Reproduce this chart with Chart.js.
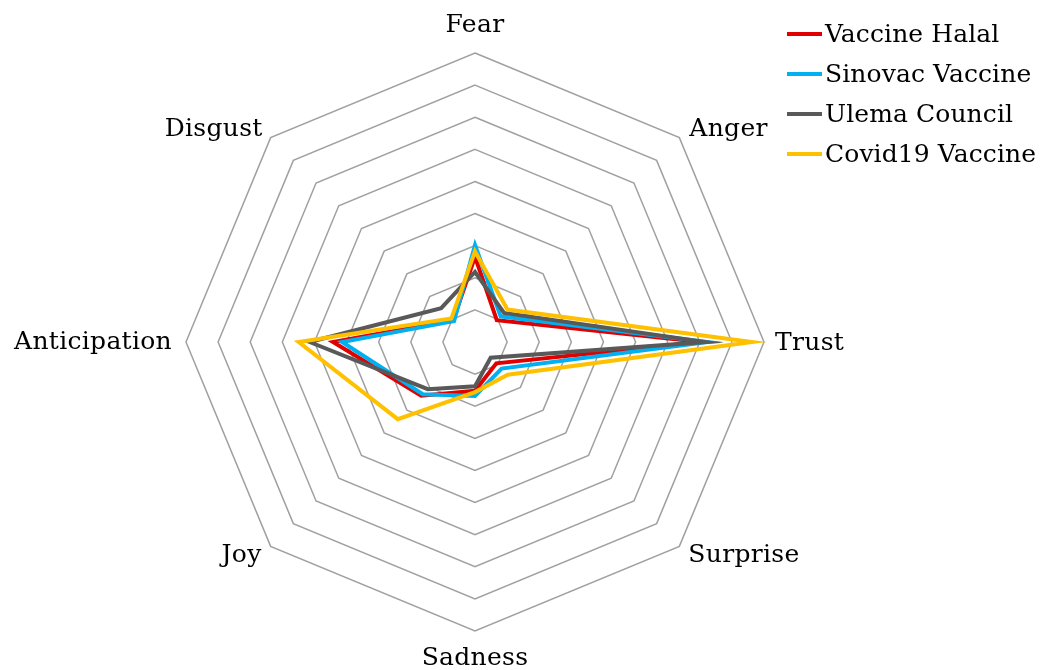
<!DOCTYPE html>
<html>
<head>
<meta charset="utf-8">
<script src="https://cdn.jsdelivr.net/npm/chart.js@4/dist/chart.umd.min.js"></script>
<style>
  html, body { margin: 0; padding: 0; background: #fff; }
  #wrap { position: relative; width: 1047px; height: 670px; }
  #c { position: absolute; left: 0; top: 0; }
  #legend { position: absolute; left: 787px; top: 14px; font-family: "DejaVu Serif", serif; font-size: 25px; color: #000; }
  .row { height: 40px; line-height: 40px; display: flex; align-items: center; white-space: nowrap; letter-spacing: 0.1px; }
  .sw { width: 35px; height: 3.5px; margin-right: 3px; }
</style>
</head>
<body>
<div id="wrap">
  <canvas id="c" width="1047" height="670"></canvas>
  <div id="legend"></div>
</div>
<script>
const categories = ["Fear", "Anger", "Trust", "Surprise", "Sadness", "Joy", "Anticipation", "Disgust"];
const seriesNames = ["Vaccine Halal", "Sinovac Vaccine", "Ulema Council", "Covid19 Vaccine"];
const vaccineHalal   = [2.65, 0.96, 7.05, 0.94, 1.52, 2.37, 4.42, 0.96];
const sinovacVaccine = [3.02, 1.13, 7.24, 1.17, 1.68, 2.30, 4.14, 0.92];
const ulemaCouncil   = [2.18, 1.28, 7.17, 0.69, 1.38, 2.08, 5.15, 1.49];
const covid19Vaccine = [2.82, 1.43, 8.62, 1.44, 1.56, 3.40, 5.49, 1.04];
const seriesColors = ["#E00000", "#00B0F0", "#595959", "#FFC000"];

const allSeries = [vaccineHalal, sinovacVaccine, ulemaCouncil, covid19Vaccine];

const labelPlacement = [
  {align: "center", dx: 0, dy: -28},
  {align: "left", dx: 10, dy: -8},
  {align: "left", dx: 11, dy: 1},
  {align: "left", dx: 9, dy: 9},
  {align: "center", dx: 0, dy: 27},
  {align: "right", dx: -9, dy: 9},
  {align: "right", dx: -14, dy: 0},
  {align: "right", dx: -8, dy: -8}
];

const pointLabelPlugin = {
  id: "pointLabelPlugin",
  afterDraw(chart) {
    const scale = chart.scales.r;
    const ctx = chart.ctx;
    ctx.save();
    ctx.font = "25px 'DejaVu Serif'";
    try { ctx.letterSpacing = "0.3px"; } catch (e) {}
    ctx.fillStyle = "#000";
    ctx.textBaseline = "middle";
    categories.forEach((lab, i) => {
      const p = scale.getPointPosition(i, scale.drawingArea);
      const pl = labelPlacement[i];
      ctx.textAlign = pl.align;
      ctx.fillText(lab, p.x + pl.dx, p.y + pl.dy);
    });
    ctx.restore();
  }
};

new Chart(document.getElementById("c"), {
  type: "radar",
  data: {
    labels: categories,
    datasets: allSeries.map((vals, i) => ({
      label: seriesNames[i],
      data: vals,
      borderColor: seriesColors[i],
      backgroundColor: seriesColors[i],
      borderWidth: 4,
      pointRadius: 0,
      pointHoverRadius: 0,
      fill: false,
      tension: 0,
      order: 3 - i
    }))
  },
  options: {
    responsive: false,
    animation: false,
    layout: { padding: { left: 186, right: 283, top: 53, bottom: 39 } },
    plugins: { legend: { display: false }, tooltip: { enabled: false } },
    scales: {
      r: {
        min: 0,
        max: 9,
        ticks: { display: false, stepSize: 1 },
        pointLabels: { display: false },
        angleLines: { display: false },
        grid: { color: "#A0A0A0", lineWidth: 1.5 }
      }
    }
  },
  plugins: [pointLabelPlugin]
});

const legend = document.getElementById("legend");
seriesNames.forEach((n, i) => {
  const row = document.createElement("div");
  row.className = "row";
  const sw = document.createElement("div");
  sw.className = "sw";
  sw.style.background = seriesColors[i];
  const t = document.createElement("span");
  t.textContent = n;
  row.appendChild(sw);
  row.appendChild(t);
  legend.appendChild(row);
});
</script>
</body>
</html>
